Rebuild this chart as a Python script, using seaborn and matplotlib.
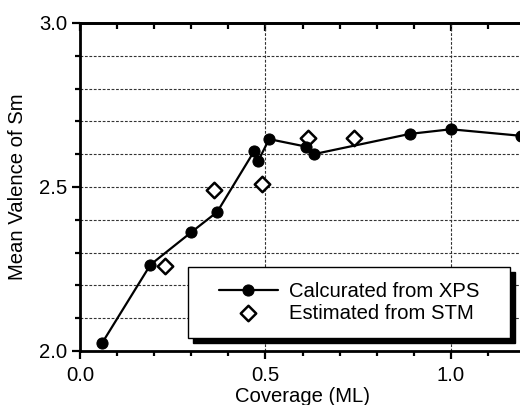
import matplotlib
matplotlib.use("Agg")
import matplotlib.pyplot as plt
import seaborn as sns
import numpy as np
from matplotlib.patches import Rectangle
from matplotlib.ticker import MultipleLocator

# data
xps_coverage = [0.06, 0.19, 0.30, 0.37, 0.47, 0.48, 0.51, 0.61, 0.63, 0.89, 1.00, 1.19]
xps_valence = [2.025, 2.263, 2.362, 2.424, 2.610, 2.578, 2.646, 2.623, 2.600, 2.662, 2.676, 2.656]
stm_coverage = [0.23, 0.36, 0.49, 0.615, 0.74]
stm_valence = [2.26, 2.49, 2.51, 2.65, 2.65]

label_xps = 'Calcurated from XPS'
label_stm = 'Estimated from STM'

# style
sns.set_style('ticks')
plt.rcParams['font.family'] = ['Liberation Sans', 'DejaVu Sans']
FS = 14.6
plt.rcParams['font.size'] = FS
plt.rcParams['text.color'] = 'black'
plt.rcParams['axes.labelcolor'] = 'black'

W, H = 520, 405
fig = plt.figure(figsize=(W / 100, H / 100), dpi=100)
ax = fig.add_axes([80 / W, 54 / H, 445 / W, 328 / H])

# STM diamonds (white filled, under the line)
sns.scatterplot(x=stm_coverage, y=stm_valence, ax=ax, marker='D', s=62,
                facecolor='white', edgecolor='black', linewidth=1.8,
                label=label_stm, zorder=3)

# XPS line with filled circles
sns.lineplot(x=xps_coverage, y=xps_valence, ax=ax, color='black', linewidth=1.6,
             marker='o', markersize=8, markeredgecolor='black',
             markerfacecolor='black', errorbar=None, label=label_xps, zorder=4)

ax.set_xlim(0, 1.2)
ax.set_ylim(2.0, 3.0)
ax.xaxis.set_major_locator(MultipleLocator(0.5))
ax.xaxis.set_minor_locator(MultipleLocator(0.1))
ax.yaxis.set_major_locator(MultipleLocator(0.5))
ax.yaxis.set_minor_locator(MultipleLocator(0.1))
ax.xaxis.set_major_formatter(lambda v, p: f'{v:.1f}')
ax.yaxis.set_major_formatter(lambda v, p: f'{v:.1f}')

# grids: dashed horizontal at every 0.1, vertical at major x only
ax.grid(which='both', axis='y', color='#333333', linestyle=(0, (2.5, 1.5)), linewidth=0.8)
ax.grid(which='major', axis='x', color='#333333', linestyle=(0, (2.5, 1.5)), linewidth=0.8)
ax.set_axisbelow(True)

for side in ['left', 'bottom', 'top', 'right']:
    ax.spines[side].set_linewidth(2.0)
    ax.spines[side].set_color('black')

ax.tick_params(which='major', direction='out', length=6, width=1.6, pad=3, colors='black', labelsize=FS)
ax.tick_params(which='minor', direction='out', length=3.5, width=1.6, colors='black')
ax.tick_params(axis='x', which='major', pad=4.5)

# top axis ticks point inwards
top = ax.secondary_xaxis('top')
top.xaxis.set_major_locator(MultipleLocator(0.5))
top.xaxis.set_minor_locator(MultipleLocator(0.1))
top.tick_params(which='major', direction='in', length=6, width=1.6, labeltop=False, colors='black')
top.tick_params(which='minor', direction='in', length=4, width=1.6, colors='black')
top.spines['top'].set_linewidth(2.0)

ax.set_xlabel('Coverage (ML)', fontsize=FS, labelpad=1.5)
ax.set_ylabel('Mean Valence of Sm', fontsize=FS, labelpad=9)

# legend with black shadowed frame
bx0, by0, bx1, by1 = 188, 267, 510, 338
shadow = Rectangle((bx0 / W + 5 / W, (H - by1) / H - 5 / H), (bx1 - bx0) / W, (by1 - by0) / H,
                   transform=fig.transFigure, facecolor='black', edgecolor='black',
                   clip_on=False, zorder=6)
frame = Rectangle((bx0 / W, (H - by1) / H), (bx1 - bx0) / W, (by1 - by0) / H,
                  transform=fig.transFigure, facecolor='white', edgecolor='black',
                  linewidth=1.0, clip_on=False, zorder=6.1)
ax.add_patch(shadow)
ax.add_patch(frame)

handles, labels = ax.get_legend_handles_labels()
order = [labels.index(label_xps), labels.index(label_stm)]
leg = ax.legend([handles[i] for i in order], [labels[i] for i in order],
                loc='center', bbox_to_anchor=(((bx0 + bx1) / 2) / W, (H - (by0 + by1) / 2) / H),
                bbox_transform=fig.transFigure, frameon=False, fontsize=FS,
                handlelength=2.9, handletextpad=0.55, labelspacing=0.12,
                borderpad=0.2, scatterpoints=1, numpoints=1)
leg.set_zorder(7)

fig.savefig('out.png', dpi=100)
